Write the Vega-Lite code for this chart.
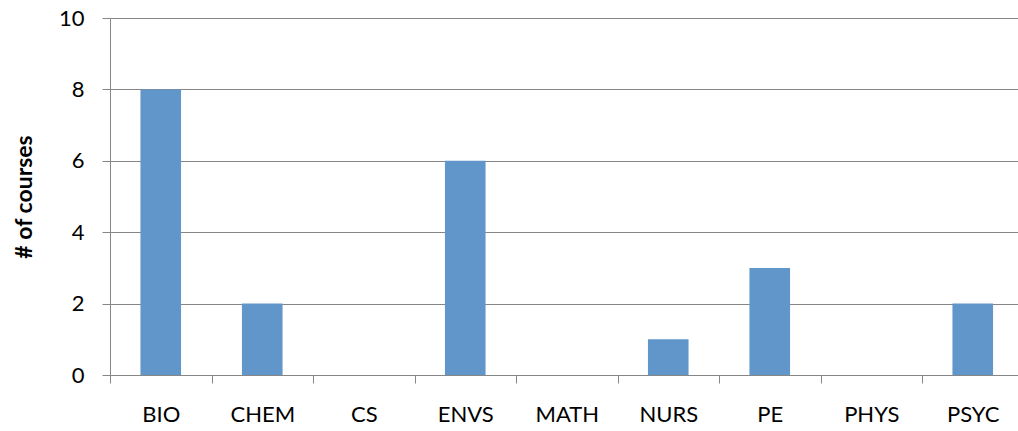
{
  "$schema": "https://vega.github.io/schema/vega-lite/v6.json",
  "autosize": "none",
  "width": 913.5,
  "height": 357,
  "padding": {"left": 110, "top": 18, "right": 0, "bottom": 56},
  "background": "white",
  "config": {"view": {"stroke": null}, "font": "Lato"},
  "data": {"values": [
    {"dept": "BIO", "courses": 8},
    {"dept": "CHEM", "courses": 2},
    {"dept": "CS", "courses": 0},
    {"dept": "ENVS", "courses": 6},
    {"dept": "MATH", "courses": 0},
    {"dept": "NURS", "courses": 1},
    {"dept": "PE", "courses": 3},
    {"dept": "PHYS", "courses": 0},
    {"dept": "PSYC", "courses": 2}
  ]},
  "mark": {"type": "bar", "color": "#6096CA", "width": {"band": 0.4}},
  "encoding": {
    "x": {
      "field": "dept", "type": "nominal", "sort": null,
      "scale": {"paddingInner": 0, "paddingOuter": 0},
      "axis": {
        "title": null, "labelAngle": 0, "labelFont": "Lato", "labelFontSize": 22,
        "labelColor": "#000000", "labelPadding": 21, "tickBand": "extent",
        "tickSize": 8, "tickColor": "#868686", "domainColor": "#868686",
        "grid": false
      }
    },
    "y": {
      "field": "courses", "type": "quantitative",
      "scale": {"domain": [0, 10]},
      "axis": {
        "title": "# of courses", "titleFont": "Lato", "titleFontSize": 23, "titleFontWeight": "bold",
        "titleColor": "#000000", "titlePadding": 22,
        "values": [0, 2, 4, 6, 8, 10], "labelFont": "Lato", "labelFontSize": 22,
        "labelColor": "#000000", "labelPadding": 18, "tickSize": 8,
        "tickColor": "#868686", "domainColor": "#868686",
        "grid": true, "gridColor": "#868686", "gridOpacity": 1
      }
    }
  }
}
